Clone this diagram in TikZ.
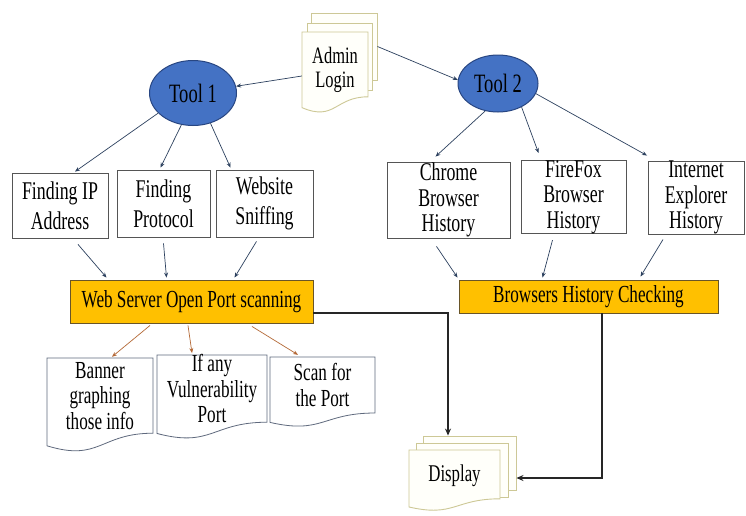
\documentclass[tikz,border=0pt]{standalone}
\usepackage{fontspec}
\setmainfont[FakeStretch=0.7]{Liberation Serif}
\usetikzlibrary{arrows.meta,shapes.geometric}
\definecolor{boxline}{RGB}{85,85,85}
\definecolor{barfill}{RGB}{255,192,0}
\definecolor{barline}{RGB}{105,85,40}
\definecolor{toolfill}{RGB}{68,114,196}
\definecolor{toolline}{RGB}{40,70,130}
\definecolor{pageline}{RGB}{205,200,150}
\definecolor{pagefill}{RGB}{255,255,250}
\definecolor{docline}{RGB}{95,105,125}
\definecolor{arrowblue}{RGB}{45,65,95}
\definecolor{arrowbrown}{RGB}{180,105,55}
\newcommand\docshape[5][]{%
  \draw[#1] (#2,#4) -- (#3,#4) -- (#3,{#4+0.8*#5})
    .. controls ({(#2+#3)/2},{#4+0.8*#5}) and ({(#2+#3)/2},{#4+1.107*#5}) ..
    (#2,{#4+0.934*#5}) -- cycle;}
\tikzset{
  boxnode/.style={draw=boxline, line width=0.8pt, fill=white, align=center, inner sep=0pt},
  barnode/.style={draw=barline, line width=0.9pt, fill=barfill, align=center, inner sep=0pt,
     font=\fontsize{24.5}{26}\selectfont},
  toolnode/.style={ellipse, draw=toolline, line width=1pt, fill=toolfill, inner sep=0pt,
     font=\fontsize{26.5}{28}\selectfont},
  pagenode/.style={draw=pageline, line width=0.9pt, fill=pagefill, inner sep=0pt},
  textnode/.style={align=center, inner sep=0pt},
  conn/.style={draw=arrowblue, line width=0.7pt, -{Stealth[length=5pt,width=4pt]}},
  connbrown/.style={draw=arrowbrown, line width=0.7pt, -{Stealth[length=5pt,width=4pt]}},
  connblack/.style={draw=black!85, line width=1.3pt, -{Stealth[length=7pt,width=6pt]}},
  twoline/.style={font=\fontsize{25.5}{30}\selectfont},
  threeline/.style={font=\fontsize{25.5}{25.5}\selectfont},
  doclines/.style={font=\fontsize{24.5}{25.5}\selectfont},
}
\begin{document}
\begin{tikzpicture}[x=1pt,y=-1pt]
\path[use as bounding box, fill=white] (0,0) rectangle (746,515);

% Admin Login (multi-document)
\node[pagenode, minimum width=66pt, minimum height=67pt] (adminback) at (344,46.5) {};
\node[pagenode, minimum width=65pt, minimum height=67pt] (adminmid) at (339.5,56.5) {};
\docshape[draw=pageline, line width=0.9pt, fill=pagefill]{302}{368}{32}{81}
\node[textnode, minimum width=66pt, minimum height=60pt, font=\fontsize{23.5}{24}\selectfont] (admin) at (335,70) {Admin\\Login};

% Tools
\node[toolnode, minimum width=87pt, minimum height=65pt] (tool1) at (193,93) {Tool 1};
\node[toolnode, minimum width=80pt, minimum height=57pt] (tool2) at (498,83.5) {Tool 2};

% Left boxes
\node[boxnode, twoline, minimum width=96pt, minimum height=65pt] (ip) at (60,205.5) {Finding IP\\Address};
\node[boxnode, twoline, minimum width=93pt, minimum height=67pt] (proto) at (163.5,203.5) {Finding\\Protocol};
\node[boxnode, twoline, minimum width=97pt, minimum height=67pt] (sniff) at (264.5,203.5) {Website\\Sniffing};

% Right boxes
\node[boxnode, threeline, minimum width=123pt, minimum height=76pt] (chrome) at (448.5,200) {Chrome\\Browser\\History};
\node[boxnode, threeline, minimum width=105pt, minimum height=70pt] (ff) at (573.5,197) {FireFox\\Browser\\History};
\node[boxnode, threeline, minimum width=96pt, minimum height=71pt] (ie) at (696,197.5) {Internet\\Explorer\\History};

% Bars
\node[barnode, minimum width=243pt, minimum height=43pt] (web) at (191.5,301.5) {Web Server Open Port scanning};
\node[barnode, minimum width=259pt, minimum height=33pt] (bhc) at (588.5,296.5) {Browsers History Checking};

% Bottom documents
\docshape[draw=docline, line width=0.8pt, fill=white]{47}{153}{358}{94}
\docshape[draw=docline, line width=0.8pt, fill=white]{157}{267}{355}{84}
\docshape[draw=docline, line width=0.8pt, fill=white]{270}{375}{357}{70}
\node[textnode, doclines, minimum width=106pt, minimum height=74pt] (banner) at (100,396) {Banner\\graphing\\those info};
\node[textnode, doclines, minimum width=110pt, minimum height=67pt] (ifany) at (212,388.5) {If any\\Vulnerability\\Port};
\node[textnode, doclines, minimum width=105pt, minimum height=56pt] (scan) at (322.5,385) {Scan for\\the Port};

% Display (multi-document)
\node[pagenode, minimum width=93pt, minimum height=54pt] (dispback) at (469.5,463) {};
\node[pagenode, minimum width=92pt, minimum height=54pt] (dispmid) at (462,470) {};
\docshape[draw=pageline, line width=0.9pt, fill=pagefill]{409}{500}{450}{61}
\node[textnode, minimum width=91pt, minimum height=49pt, font=\fontsize{24}{24}\selectfont] (display) at (454.5,476) {Display};

% Connectors: top
\draw[conn] ([yshift=-6pt]admin.west) -- (tool1);
\draw[conn] (adminback.east) -- (tool2.175);
\draw[conn] (tool1.-150) -- ([xshift=15pt,yshift=1pt]ip.north);
\draw[conn] (tool1.-110) -- ([xshift=-3pt,yshift=2pt]proto.north);
\draw[conn] (tool1.-60) -- ([xshift=-34pt,yshift=2pt]sniff.north);
\draw[conn] (tool2.-115) -- ([xshift=-13pt,yshift=5pt]chrome.north);
\draw[conn] (tool2.-45) -- ([xshift=-35pt,yshift=7pt]ff.north);
\draw[conn] (tool2.-15) -- ([xshift=-49pt,yshift=5pt]ie.north);

% Connectors: boxes to bars
\draw[conn] ([xshift=18pt,yshift=-6pt]ip.south) -- ([xshift=-85pt,yshift=2pt]web.north);
\draw[conn] ([yshift=-6pt]proto.south) -- ([xshift=-25pt,yshift=2pt]web.north);
\draw[conn] ([xshift=-8pt,yshift=-4pt]sniff.south) -- ([xshift=43pt,yshift=2pt]web.north);
\draw[conn] ([xshift=-12pt,yshift=-8pt]chrome.south) -- ([xshift=-131pt,yshift=2pt]bhc.north);
\draw[conn] ([xshift=-21pt,yshift=-6pt]ff.south) -- ([xshift=-46pt,yshift=2pt]bhc.north);
\draw[conn] ([xshift=-33pt,yshift=-5pt]ie.south) -- ([xshift=52pt,yshift=3pt]bhc.north);

% Connectors: web server to documents
\draw[connbrown] ([xshift=-41.5pt,yshift=-2pt]web.south) -- ([xshift=12pt,yshift=2pt]banner.north);
\draw[connbrown] ([xshift=-3.5pt,yshift=-2pt]web.south) -- ([xshift=-20pt,yshift=1pt]ifany.north);
\draw[connbrown] ([xshift=60.5pt,yshift=-3pt]web.south) -- ([xshift=-24.5pt,yshift=2pt]scan.north);

% Connectors to Display
\draw[connblack] ([yshift=-11.5pt]web.east) -| ([xshift=-21.5pt]dispback.north);
\draw[connblack] ([xshift=13.5pt]bhc.south) |- ([yshift=-15pt]dispback.east);
\end{tikzpicture}
\end{document}
